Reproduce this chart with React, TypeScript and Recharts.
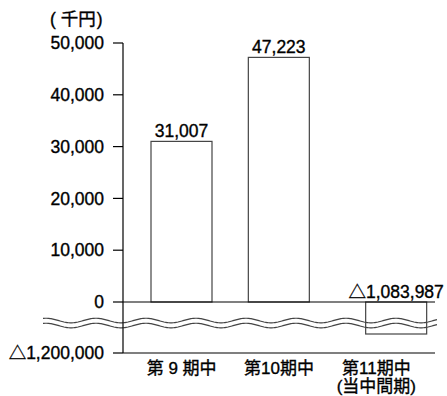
import React from 'react';
import { BarChart, Bar, XAxis, YAxis, ReferenceLine, LabelList } from 'recharts';

// ---- data ----
const categories = ['第 9 期中', '第10期中', '第11期中'];
const subLabels = ['', '', '(当中間期)'];
const values = [31007, 47223, -1083987];
const valueLabels = ['31,007', '47,223', '△1,083,987'];
const yTickValues = [-1200000, 0, 10000, 20000, 30000, 40000, 50000];
const yTickLabels = ['△1,200,000', '0', '10,000', '20,000', '30,000', '40,000', '50,000'];
const unitLabel = '千円';

// ---- broken-axis transform (values below the break are compressed) ----
const BREAK_AT = 1000000;
const BREAK_OFFSET = 3522;
const NEG_SCALE = 0.03162;
const toDisplay = (v: number) => (v >= 0 ? v : -BREAK_OFFSET - (-v - BREAK_AT) * NEG_SCALE);

const data = categories.map((c, i) => ({ name: c, value: toDisplay(values[i]), idx: i }));
const yTicks = yTickValues.map(toDisplay);
const tickLabelFor = (d: number) => {
  const i = yTicks.findIndex((t) => Math.abs(t - d) < 1e-6);
  return i >= 0 ? yTickLabels[i] : '';
};

const FONT = "'Liberation Sans', 'Noto Sans CJK JP', sans-serif";
const FS = 17.5;
const TEXT_STROKE = { stroke: '#000', strokeWidth: 0.35 };
const BAR_SHIFT = [0, 0, 20];

const BarShape = (props: any) => {
  const { x, y, width, height, index } = props;
  const top = Math.min(y, y + height);
  const h = Math.abs(height);
  return (
    <rect x={x + BAR_SHIFT[index]} y={top} width={width} height={h} fill="#fff" stroke="#444" strokeWidth={1.2} />
  );
};

const ValueLabel = (props: any) => {
  const { x, y, width, height, index } = props;
  const top = Math.min(y, y + height);
  return (
    <text x={x + width / 2 + BAR_SHIFT[index]} y={top - 4} textAnchor="middle" fontSize={FS} fontFamily={FONT} fill="#000" {...TEXT_STROKE}>
      {valueLabels[index]}
    </text>
  );
};

const XTick = (props: any) => {
  const { x, index } = props;
  return (
    <text x={x} y={374} textAnchor="middle" fontSize={17} fontFamily={FONT} fill="#000" {...TEXT_STROKE}>
      <tspan x={x}>{categories[index]}</tspan>
      {subLabels[index] ? <tspan x={x} dy={18}>{subLabels[index]}</tspan> : null}
    </text>
  );
};

const YTick = (props: any) => {
  const { x, y, payload } = props;
  return (
    <text x={x} y={y} dy="0.36em" textAnchor="end" fontSize={FS} fontFamily={FONT} fill="#000" {...TEXT_STROKE}>
      {tickLabelFor(payload.value)}
    </text>
  );
};

const wavePath = (x1: number, x2: number, yc: number) => {
  const A = 2.3;
  const P = 50;
  let d = '';
  for (let x = x1; x <= x2; x += 1) {
    const yy = yc - A * Math.cos((2 * Math.PI * (x - 96)) / P);
    d += (x === x1 ? 'M' : 'L') + x + ',' + yy.toFixed(2);
  }
  return d;
};

const WaveShape = (props: any) => {
  const { x1, x2, y1 } = props;
  const a = x1 - 80;
  const b = x2 + 2;
  return (
    <g>
      <path d={wavePath(a, b, y1 + 0.3)} fill="none" stroke="#444" strokeWidth={1.2} />
      <path d={wavePath(a, b, y1 + 5.3)} fill="none" stroke="#444" strokeWidth={1.2} />
    </g>
  );
};

export default function App() {
  return (
    <div style={{ position: 'absolute', left: 0, top: 0, width: 447, height: 396, background: '#fff' }}>
      <svg width={447} height={30} style={{ position: 'absolute', left: 0, top: 0 }}>
        <text x={50} y={25} textAnchor="start" fontSize={FS} fontFamily={FONT} fill="#000" {...TEXT_STROKE}>
          <tspan>(</tspan>
          <tspan dx={5}>{unitLabel}</tspan>
          <tspan dx={1}>)</tspan>
        </text>
      </svg>
      <BarChart
        width={447}
        height={396}
        data={data}
        margin={{ top: 43, right: 12, bottom: 13, left: 63 }}
        barSize={61}
        style={{ position: 'absolute', left: 0, top: 0 }}
      >
        <XAxis
          dataKey="name"
          height={30}
          tickLine={false}
          axisLine={{ stroke: '#000', strokeWidth: 1.2 }}
          tick={<XTick />}
          interval={0}
          padding={{ left: 10, right: 10 }}
        />
        <YAxis
          width={60}
          domain={[toDisplay(-1200000), 50000]}
          ticks={yTicks}
          interval={0}
          tickSize={10}
          tickMargin={9}
          axisLine={{ stroke: '#000', strokeWidth: 1.2 }}
          tickLine={{ stroke: '#000', strokeWidth: 1.2 }}
          tick={<YTick />}
          allowDataOverflow
        />
        <ReferenceLine y={0} stroke="#000" strokeWidth={1.2} />
        <Bar dataKey="value" shape={<BarShape />} isAnimationActive={false}>
          <LabelList dataKey="value" content={<ValueLabel />} />
        </Bar>
        <ReferenceLine y={toDisplay(-BREAK_AT)} shape={<WaveShape />} />
      </BarChart>
    </div>
  );
}
